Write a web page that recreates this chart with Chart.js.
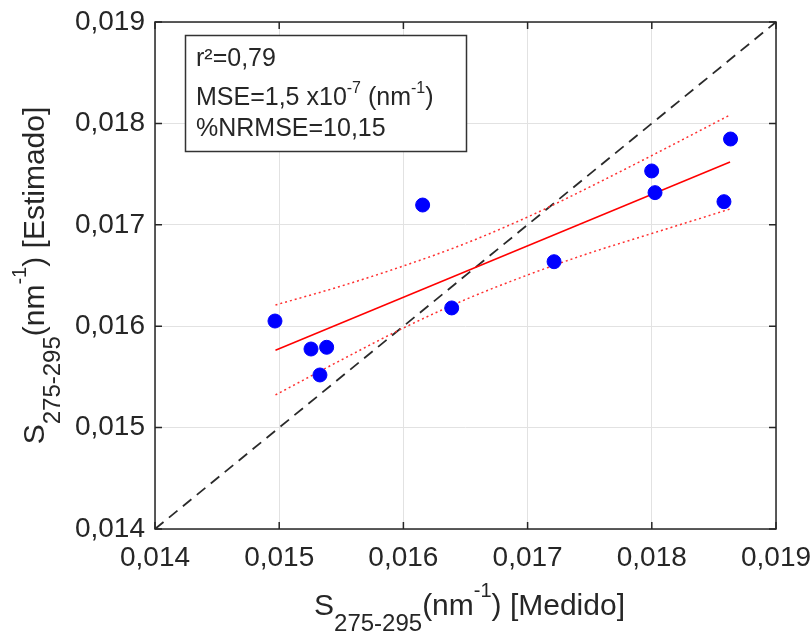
<!DOCTYPE html>
<html lang="es">
<head>
<meta charset="UTF-8">
<title>S275-295 medido vs estimado</title>
<style>
  * { margin: 0; padding: 0; box-sizing: border-box; }
  body { background: #fff; }
  .chart-container { position: relative; width: 812px; height: 632px; }
</style>
</head>
<body>
<div class="chart-container"><canvas id="sChart"></canvas></div>
<script src="https://cdn.jsdelivr.net/npm/chart.js"></script>
<script>
// puntos medidos vs estimados
const measured  = [0.014966, 0.015256, 0.015382, 0.015328, 0.016155, 0.016389, 0.017213, 0.017999, 0.018026, 0.018581, 0.018634];
const estimated = [0.016051, 0.015775, 0.015792, 0.015519, 0.017195, 0.016180, 0.016636, 0.017531, 0.017317, 0.017228, 0.017846];

// recta de ajuste y bandas de confianza
const fitX = [0.01497, 0.01863];
const fitY = [0.015763, 0.017619];
const bandX = [0.01497, 0.0155, 0.016, 0.0165, 0.017, 0.0175, 0.018, 0.01863];
const upperBand = [0.016209, 0.016396, 0.016594, 0.016816, 0.017077, 0.017373, 0.017683, 0.018083];
const lowerBand = [0.015322, 0.015667, 0.015982, 0.016263, 0.016505, 0.016722, 0.016914, 0.017156];

// linea 1:1
const identity = [0.014, 0.019];

const tickValues = [0.014, 0.015, 0.016, 0.017, 0.018, 0.019];

const FONT = '"Liberation Sans", Arial, Helvetica, sans-serif';
const INK = '#262626';

const fmt = v => Number(v).toFixed(3).replace('.', ',');
const pts = (xs, ys) => xs.map((x, i) => ({ x: x, y: ys[i] }));

function drawRuns(ctx, runs, x, y, align) {
    let total = 0;
    runs.forEach(r => {
        ctx.font = r.size + 'px ' + FONT;
        r.w = ctx.measureText(r.text).width;
        total += r.w;
    });
    let cx = align === 'center' ? x - total / 2 : x;
    runs.forEach(r => {
        ctx.font = r.size + 'px ' + FONT;
        ctx.fillText(r.text, cx, y + (r.dy || 0));
        cx += r.w;
    });
}

// marco, marcas hacia dentro y textos
const framePlugin = {
    id: 'frame',
    afterDatasetsDraw(chart) {
        const { ctx, chartArea: a, scales } = chart;
        ctx.save();
        ctx.strokeStyle = INK;
        ctx.lineWidth = 1.5;
        ctx.strokeRect(a.left, a.top, a.right - a.left, a.bottom - a.top);
        ctx.beginPath();
        tickValues.forEach(v => {
            const x = scales.x.getPixelForValue(v);
            ctx.moveTo(x, a.bottom); ctx.lineTo(x, a.bottom - 7);
            ctx.moveTo(x, a.top); ctx.lineTo(x, a.top + 7);
            const y = scales.y.getPixelForValue(v);
            ctx.moveTo(a.left, y); ctx.lineTo(a.left + 7, y);
            ctx.moveTo(a.right, y); ctx.lineTo(a.right - 7, y);
        });
        ctx.stroke();
        ctx.restore();
    },
    afterDraw(chart) {
        const { ctx, chartArea: a } = chart;
        ctx.save();
        ctx.fillStyle = INK;
        ctx.textBaseline = 'alphabetic';

        // titulo eje x
        const cx = (a.left + a.right) / 2 + 4;
        drawRuns(ctx, [
            { text: 'S', size: 30 },
            { text: '275-295', size: 24, dy: 16 },
            { text: '(nm', size: 30 },
            { text: '-1', size: 20, dy: -18 },
            { text: ') [Medido]', size: 30 }
        ], cx, 615, 'center');

        // titulo eje y
        ctx.save();
        ctx.translate(44, (a.top + a.bottom) / 2);
        ctx.rotate(-Math.PI / 2);
        drawRuns(ctx, [
            { text: 'S', size: 30 },
            { text: '275-295', size: 24, dy: 16 },
            { text: '(nm', size: 30 },
            { text: '-1', size: 20, dy: -18 },
            { text: ') [Estimado]', size: 30 }
        ], 0, 0, 'center');
        ctx.restore();

        // cuadro de estadisticos
        ctx.fillStyle = '#fff';
        ctx.fillRect(185, 35, 282, 117);
        ctx.strokeStyle = '#333';
        ctx.lineWidth = 1.5;
        ctx.strokeRect(185.5, 35.5, 281, 116);
        ctx.fillStyle = INK;
        drawRuns(ctx, [{ text: 'r²=0,79', size: 25 }], 196, 66, 'left');
        drawRuns(ctx, [
            { text: 'MSE=1,5 x10', size: 25 },
            { text: '-7', size: 16, dy: -12 },
            { text: ' (nm', size: 25 },
            { text: '-1', size: 16, dy: -12 },
            { text: ')', size: 25 }
        ], 196, 105, 'left');
        drawRuns(ctx, [{ text: '%NRMSE=10,15', size: 25 }], 196, 136, 'left');
        ctx.restore();
    }
};

const axisBase = {
    type: 'linear',
    min: 0.014,
    max: 0.019,
    afterBuildTicks: s => { s.ticks = tickValues.map(v => ({ value: v })); },
    grid: { color: '#e2e2e2', lineWidth: 1, drawTicks: false },
    border: { display: false },
    ticks: {
        font: { family: FONT, size: 28 },
        color: INK,
        maxRotation: 0,
        autoSkip: false,
        callback: fmt
    }
};

// tamaño fijo de los ejes, sin relleno extra por las etiquetas
function fixBox(s, w, h) {
    if (w) s.width = w;
    if (h) s.height = h;
    s.paddingLeft = 0; s.paddingRight = 0;
    s.paddingTop = 0; s.paddingBottom = 0;
}

const ctx = document.getElementById('sChart').getContext('2d');

new Chart(ctx, {
    type: 'scatter',
    data: {
        datasets: [
            {
                data: pts(measured, estimated),
                backgroundColor: '#0000ff',
                borderColor: '#0000ff',
                pointRadius: 7,
                pointHoverRadius: 7
            },
            {
                data: pts(fitX, fitY),
                showLine: true,
                borderColor: '#ff0000',
                borderWidth: 1.5,
                pointRadius: 0
            },
            {
                data: pts(bandX, upperBand),
                showLine: true,
                borderColor: '#ff3030',
                borderWidth: 1.5,
                borderDash: [2, 3],
                cubicInterpolationMode: 'monotone',
                pointRadius: 0
            },
            {
                data: pts(bandX, lowerBand),
                showLine: true,
                borderColor: '#ff3030',
                borderWidth: 1.5,
                borderDash: [2, 3],
                cubicInterpolationMode: 'monotone',
                pointRadius: 0
            },
            {
                data: pts(identity, identity),
                showLine: true,
                borderColor: '#2a2a2a',
                borderWidth: 1.8,
                borderDash: [11, 7],
                pointRadius: 0
            }
        ]
    },
    options: {
        responsive: true,
        maintainAspectRatio: false,
        animation: false,
        layout: { padding: { top: 22, right: 36, left: 0, bottom: 0 } },
        plugins: { legend: { display: false }, tooltip: { enabled: false } },
        scales: {
            x: Object.assign({}, axisBase, {
                afterFit: s => fixBox(s, 0, 103),
                ticks: Object.assign({}, axisBase.ticks, { padding: 12 })
            }),
            y: Object.assign({}, axisBase, {
                afterFit: s => fixBox(s, 155, 0),
                ticks: Object.assign({}, axisBase.ticks, { padding: 10 })
            })
        }
    },
    plugins: [framePlugin]
});
</script>
</body>
</html>
